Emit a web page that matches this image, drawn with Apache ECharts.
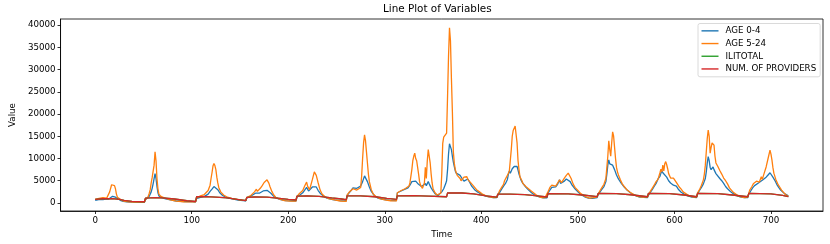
<!DOCTYPE html>
<html><head><meta charset="utf-8">
<script src="https://cdn.jsdelivr.net/npm/echarts@6/dist/echarts.min.js"></script>
<style>html,body{margin:0;padding:0;background:#fff}#c{width:830px;height:244px}</style>
</head><body><div id="c"></div>
<script>
const seriesNames = ['AGE 0-4', 'AGE 5-24', 'ILITOTAL', 'NUM. OF PROVIDERS'];
const xTicks = [0, 100, 200, 300, 400, 500, 600, 700];
const yTicks = [0, 5000, 10000, 15000, 20000, 25000, 30000, 35000, 40000];

const age04 = [
[0,600],[2,700],[5,800],[8,750],[11,850],[14,900],[16,1200],[18,1500],[19,1600],[20,1550],[21,1300],[23,900],[26,600],[29,350],[33,250],[40,150],[51,150],
[52,700],[54,1000],[56,1500],[58,2500],[59,3300],[60,4300],[61,5500],[62,6600],[63,5500],[64,3700],[65,2300],[66,1600],[69,1200],[73,950],[78,700],[84,450],[92,300],[104,280],
[105,1000],[108,1200],[111,1400],[114,1600],[117,2000],[119,2600],[121,3100],[123,3700],[124,3800],[125,3600],[127,3000],[129,2300],[132,1700],[136,1200],[142,900],[148,650],[156,500],
[157,1100],[160,1400],[163,1800],[166,2200],[168,2400],[170,2200],[172,2600],[174,2700],[176,2900],[178,2850],[180,2700],[182,2200],[184,1700],[187,1200],[191,800],[197,550],[208,450],
[209,1300],[212,1800],[215,2300],[217,2900],[219,3500],[221,2700],[223,2800],[225,3600],[227,4000],[229,3600],[231,2800],[233,2200],[236,1600],[240,1100],[246,750],[253,550],[260,450],
[261,1700],[263,2300],[265,2800],[267,3400],[269,3600],[271,3300],[273,3500],[275,3800],[277,4800],[279,6100],[280,6000],[282,4800],[284,3600],[286,2600],[289,1700],[293,1100],[298,800],[305,600],[312,550],
[313,2300],[315,2500],[318,2800],[321,3100],[324,3400],[326,4000],[328,4800],[330,5200],[332,4900],[334,4400],[336,4000],[338,3700],[340,3600],[342,4400],[343,3900],[345,4800],[346,4300],[348,3400],[350,2700],[352,2100],[355,1700],[357,1600],[359,2500],[361,3200],[363,4300],[364,5000],[365,7500],[366,11000],[367,13300],[368,13000],[369,12000],[370,10500],[371,9200],[372,8200],
[373,7200],[374,6700],[376,6400],[378,6200],[380,5500],[382,4900],[384,5000],[386,5400],[388,4600],[390,3800],[393,3000],[396,2500],[400,2000],[404,1600],[408,1350],[412,1200],[416,1200],
[417,1700],[419,2400],[421,3100],[423,3800],[425,4400],[427,5300],[428,6500],[429,7200],[430,6700],[432,7700],[434,8200],[436,8300],[437,8200],[438,7400],[439,6500],[441,5200],[443,4400],[446,3600],[449,2900],[452,2300],[456,1700],[460,1350],[464,1150],[468,1150],
[469,2200],[471,2900],[473,3500],[475,3700],[477,3600],[479,4200],[481,5200],[482,4400],[484,4300],[486,4900],[488,5400],[490,5500],[492,4800],[494,4000],[497,3200],[500,2500],[503,1900],[507,1400],[511,1100],[515,1050],[520,1200],
[521,1900],[523,2500],[525,3100],[527,3700],[529,4800],[530,6500],[531,8500],[532,9700],[533,8800],[534,8400],[536,8500],[538,7500],[540,6300],[542,5400],[545,4400],[548,3600],[551,2900],[555,2200],[559,1700],[564,1300],[572,1200],
[573,1700],[575,2400],[577,3000],[579,3700],[581,4400],[583,5400],[585,6000],[586,6700],[587,7300],[588,6800],[590,6400],[592,5800],[594,5000],[596,4500],[599,4000],[602,3800],[604,3100],[607,2400],[610,2000],[614,1600],[618,1300],[623,1200],
[624,2100],[626,2800],[628,3500],[630,4300],[632,5500],[633,7000],[634,9000],[635,10400],[636,9500],[637,8000],[638,7500],[640,8100],[641,7500],[643,6600],[645,6200],[647,5500],[649,5000],[651,4400],[653,3700],[655,3200],[658,2600],[661,2100],[664,1700],[668,1400],[672,1200],[676,1200],
[677,2000],[679,2700],[681,3400],[683,3900],[685,4200],[687,4500],[689,4800],[691,5100],[693,5300],[695,5800],[697,6300],[699,6800],[700,6700],[702,5800],[704,5100],[706,4200],[708,3500],[710,2900],[712,2500],[714,2100],[716,1800],[718,1600]
];

const age524 = [
[0,800],[2,950],[4,1050],[6,900],[8,1200],[10,1000],[12,1100],[14,1500],[15,2500],[17,4100],[18,4450],[19,4400],[20,3900],[21,3200],[22,2000],[23,1300],[25,900],[28,550],[31,350],[35,250],[40,200],[45,180],[51,200],
[52,700],[53,1100],[55,1500],[56,2200],[57,3000],[58,4500],[59,5700],[60,5900],[61,8500],[62,11500],[63,9500],[64,5500],[65,3200],[66,2000],[68,1500],[71,1200],[74,1000],[78,700],[84,400],[92,280],[100,250],[104,260],
[105,1100],[107,1400],[109,1600],[111,1800],[113,1900],[115,2200],[117,2800],[119,4000],[120,5500],[121,6800],[122,8300],[123,8900],[124,8400],[125,7500],[126,5800],[127,4500],[128,3500],[130,2500],[133,1800],[137,1300],[142,1000],[147,800],[152,650],[156,600],
[157,1200],[159,1450],[161,1650],[163,1900],[165,2500],[167,3100],[168,2600],[169,2500],[171,3300],[173,3900],[175,4600],[176,5000],[178,5200],[179,4900],[180,4400],[181,3700],[183,2600],[185,1800],[187,1300],[191,850],[196,550],[202,420],[208,400],
[209,1500],[211,2000],[213,2300],[215,2800],[217,3800],[219,4700],[220,3800],[222,3000],[223,3700],[225,5300],[227,7000],[228,6800],[229,6200],[231,4500],[233,2900],[235,2000],[238,1400],[242,1000],[248,700],[254,450],[260,380],
[261,1800],[263,2400],[265,2800],[267,3200],[269,3300],[271,2900],[273,2500],[275,3500],[276,6000],[277,10000],[278,13500],[279,15300],[280,14000],[281,11500],[282,9000],[283,6500],[284,4800],[286,3000],[288,2000],[291,1400],[295,1000],[300,700],[306,500],[312,480],
[313,2300],[315,2600],[317,2800],[319,2500],[321,3200],[323,3500],[325,3800],[326,4500],[327,6000],[328,7500],[329,9500],[330,10500],[331,11200],[332,10000],[333,9500],[334,8000],[335,6500],[336,4800],[337,4000],[339,3300],[341,4500],[342,8000],[343,5500],[344,9500],[345,12000],[346,12300],[347,9000],[348,6500],[349,4500],[350,3200],[352,2300],[354,1800],[356,1600],[358,2200],[359,6500],[360,13400],[361,14800],[362,15000],[363,14500],[364,15700],[365,24000],[366,33000],[367,39400],[368,36500],[369,28000],[370,20500],[371,11500],[372,8900],
[373,7500],[374,6800],[375,6200],[376,6000],[377,6500],[378,5500],[379,5000],[380,5300],[382,5800],[383,6000],[384,5600],[385,5900],[386,5300],[388,4800],[390,4400],[392,3800],[395,3000],[398,2500],[401,2000],[404,1700],[407,1450],[410,1300],[413,1200],[416,1250],
[417,1800],[418,2200],[419,2800],[421,3500],[423,4200],[424,5000],[426,5800],[427,5500],[428,6700],[429,7200],[430,7500],[431,12000],[432,15000],[433,16300],[434,16000],[435,17300],[436,17500],[437,13500],[438,9500],[439,7500],[440,5900],[442,5000],[443,4400],[446,3700],[448,3300],[451,2800],[454,2300],[457,1800],[460,1400],[463,1200],[466,1200],[468,1300],
[469,2500],[470,3000],[471,3500],[473,4000],[475,4400],[477,3800],[479,4500],[481,5200],[483,4600],[484,4800],[486,5600],[488,6200],[490,6700],[491,6500],[493,5500],[495,4300],[497,3500],[500,2800],[503,2100],[506,1700],[509,1300],[512,1100],[516,1200],[520,1400],
[521,2000],[523,2800],[525,3500],[527,4200],[529,5500],[530,8000],[531,10500],[532,14000],[533,12000],[534,10500],[535,13500],[536,16000],[537,15000],[538,12500],[539,10000],[540,8000],[541,7000],[542,6300],[544,5200],[546,4300],[548,3700],[551,2900],[554,2400],[558,1900],[562,1500],[566,1300],[572,1300],
[573,1800],[575,2600],[577,3300],[579,4000],[581,4800],[583,5300],[585,6800],[586,7600],[587,7000],[588,8500],[589,7200],[590,8800],[591,9300],[592,8600],[593,7700],[594,6600],[596,5600],[598,5300],[599,5600],[601,5500],[603,4300],[605,3600],[607,3100],[609,2500],[611,2100],[614,1800],[617,1500],[620,1300],[623,1350],
[624,2300],[626,3000],[628,4000],[630,5200],[631,6500],[632,8500],[633,11500],[634,14500],[635,16400],[636,15000],[637,11200],[638,12500],[639,13500],[640,13800],[641,13000],[642,10500],[643,9000],[645,8200],[647,7300],[649,6500],[651,5600],[653,5000],[655,4300],[657,3400],[659,2900],[661,2400],[663,2100],[666,1600],[670,1300],[673,1200],[676,1300],
[677,2200],[678,2900],[680,3600],[682,4400],[684,4600],[685,4900],[687,5200],[688,4700],[690,5900],[691,5300],[693,6700],[695,8100],[697,10000],[699,11900],[700,11000],[701,9700],[702,8000],[703,6700],[705,5300],[707,4300],[709,3600],[711,2900],[713,2400],[715,1900],[717,1600],[718,1500]
];

const iliTotal = [
[0,800],[8,950],[18,1000],[25,800],[30,600],[38,350],[51,280],
[52,1100],[62,1200],[70,1150],[82,900],[95,500],[104,340],
[105,1400],[115,1420],[125,1300],[137,1150],[147,830],[156,520],
[157,1270],[165,1350],[178,1340],[191,1050],[200,800],[208,670],
[209,1550],[220,1600],[232,1500],[245,1150],[255,900],[260,750],
[261,1600],[275,1600],[290,1400],[302,1050],[312,800],
[313,1600],[330,1650],[345,1550],[364,1400],
[365,2250],[380,2250],[392,2050],[405,1600],[416,1300],
[417,2000],[430,2000],[445,1900],[458,1600],[468,1350],
[469,2100],[490,2050],[505,1800],[520,1450],
[521,2150],[540,2100],[555,1850],[572,1400],
[573,2150],[595,2100],[610,1800],[623,1400],
[624,2150],[645,2100],[660,1800],[676,1400],
[677,2150],[700,2050],[712,1700],[718,1450]
];

const providers = [
[0,800],[8,950],[18,1000],[25,800],[30,600],[38,350],[51,280],
[52,1100],[62,1200],[70,1150],[82,900],[95,500],[104,340],
[105,1400],[115,1420],[125,1300],[137,1150],[147,830],[156,520],
[157,1270],[165,1350],[178,1340],[191,1050],[200,800],[208,670],
[209,1550],[220,1600],[232,1500],[245,1150],[255,900],[260,750],
[261,1600],[275,1600],[290,1400],[302,1050],[312,800],
[313,1600],[330,1650],[345,1550],[364,1400],
[365,2250],[380,2250],[392,2050],[405,1600],[416,1300],
[417,2000],[430,2000],[445,1900],[458,1600],[468,1350],
[469,2100],[490,2050],[505,1800],[520,1450],
[521,2150],[540,2100],[555,1850],[572,1400],
[573,2150],[595,2100],[610,1800],[623,1400],
[624,2150],[645,2100],[660,1800],[676,1400],
[677,2150],[700,2050],[712,1700],[718,1450]
];

const colors = ['#1f77b4', '#ff7f0e', '#2ca02c', '#d62728'];
const seriesData = [age04, age524, iliTotal, providers];
const FONT = 'DejaVu Sans';

const chart = echarts.init(document.getElementById('c'), null, {renderer: 'canvas'});
chart.setOption({
  animation: false,
  backgroundColor: '#fff',
  color: colors,
  textStyle: {fontFamily: FONT},
  title: {
    text: 'Line Plot of Variables', left: 383, top: 4, padding: 0,
    textStyle: {fontFamily: FONT, fontSize: 10.4, fontWeight: 'normal', color: '#000'}
  },
  grid: {left: 51, right: 7, top: 19, bottom: 33, show: true, borderColor: '#000', borderWidth: 0.8, containLabel: false},
  legend: {
    orient: 'vertical', left: 698, top: 23.5,
    data: seriesNames,
    icon: 'rect', itemWidth: 17, itemHeight: 1.4, itemGap: 3,
    padding: [2.5, 4, 3, 3.5],
    borderColor: '#d0d0d0', borderWidth: 0.8, borderRadius: 2,
    backgroundColor: 'rgba(255,255,255,0.8)',
    textStyle: {fontFamily: FONT, fontSize: 8.7, color: '#000', lineHeight: 9.7, padding: [0, 0, 0, 2]}
  },
  xAxis: {
    type: 'value', min: -35.9, max: 753.9,
    name: 'Time', nameLocation: 'middle', nameGap: 16,
    nameTextStyle: {fontFamily: FONT, fontSize: 8.7, color: '#000'},
    axisLine: {show: true, onZero: false, lineStyle: {color: '#000', width: 0.8}},
    axisTick: {show: true, length: 3, lineStyle: {color: '#000', width: 0.8}, customValues: xTicks},
    axisLabel: {color: '#000', fontSize: 8.7, fontFamily: FONT, margin: 5, customValues: xTicks, formatter: v => String(v)},
    splitLine: {show: false}
  },
  yAxis: {
    type: 'value', min: -1800, max: 41350,
    name: 'Value', nameLocation: 'middle', nameGap: 36,
    nameTextStyle: {fontFamily: FONT, fontSize: 8.7, color: '#000'},
    axisLine: {show: true, onZero: false, lineStyle: {color: '#000', width: 0.8}},
    axisTick: {show: true, length: 3, lineStyle: {color: '#000', width: 0.8}, customValues: yTicks},
    axisLabel: {color: '#000', fontSize: 8.7, fontFamily: FONT, margin: 5, customValues: yTicks, formatter: v => String(v)},
    splitLine: {show: false}
  },
  series: seriesNames.map((n, i) => ({
    name: n, type: 'line', data: seriesData[i], symbol: 'none', showSymbol: false,
    lineStyle: {width: 1.3, color: colors[i]}, itemStyle: {color: colors[i]},
    emphasis: {disabled: true}, z: 2 + i
  }))
});
</script></body></html>
